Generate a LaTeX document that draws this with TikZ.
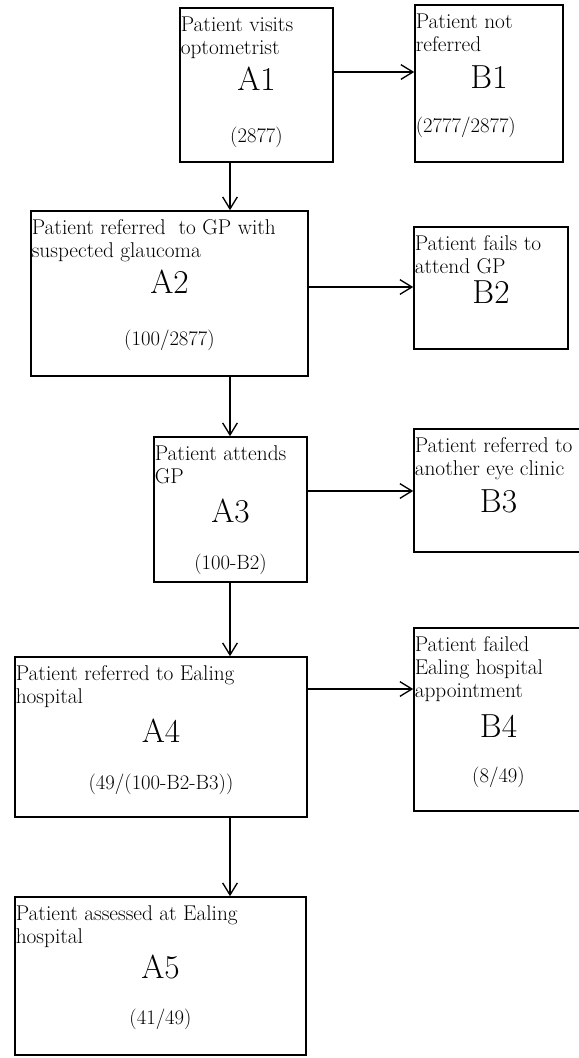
\documentclass[tikz,border=0pt]{standalone}
\usetikzlibrary{arrows.meta,calc,fit}
\begin{document}
\begin{tikzpicture}[x=0.75pt,y=-0.75pt]
      \tikzset{stage/.style={draw, rectangle, line width=1.2pt, inner sep=0pt},
               descr/.style={anchor=north west, align=left, inner xsep=1pt, inner ysep=0pt, font=\fontsize{16}{17.4}\selectfont},
               stagename/.style={inner sep=0pt, font=\fontsize{25}{27}\selectfont},
               tally/.style={inner sep=0pt, font=\fontsize{15.5}{17}\selectfont},
               flow/.style={-{Straight Barb[length=9pt,width=11pt]}, line width=1pt}}
      \useasboundingbox (0,0) rectangle (579,1058);
      \clip (0,0) rectangle (579,1058);
%% Boxes
      	\node[stage, fit={(180,8) (333,162)}] (a1) {};
      	\node[stage, fit={(415,5) (563,162)}] (b1) {};
      	\node[stage, fit={(31,211) (308,376)}] (a2) {};
      	\node[stage, fit={(414,227) (568,349)}] (b2) {};
      	\node[stage, fit={(154,437) (307,582)}] (a3) {};
      	\node[stage, fit={(414,429) (583,552)}] (b3) {};
      	\node[stage, fit={(15,657) (307,817)}] (a4) {};
      	\node[stage, fit={(414,628) (583,811)}] (b4) {};
      	\node[stage, fit={(15,897) (306,1055)}] (a5) {};
%% Texts
      	\node[descr] (a1d) at ($(a1.north west)+(0,9)$) {Patient visits\\optometrist};
      	\node[stagename] (a1n) at ($(a1.north)+(0,72)$) {A1};
      	\node[tally] (a1c) at ($(a1.north)+(0,130)$) {(2877)};
      	\node[descr] (b1d) at ($(b1.north west)+(0,9)$) {Patient not\\referred};
      	\node[stagename] (b1n) at ($(b1.north)+(0,73)$) {B1};
      	\node[tally, anchor=west, inner xsep=1pt] (b1c) at ($(b1.north west)+(0,123)$) {(2777/2877)};
      	\node[descr] (a2d) at ($(a2.north west)+(0,9)$) {Patient referred~ to GP with\\suspected glaucoma};
      	\node[stagename] (a2n) at ($(a2.north)+(0,72)$) {A2};
      	\node[tally] (a2c) at ($(a2.north)+(0,130)$) {(100/2877)};
      	\node[descr] (b2d) at ($(b2.north west)+(0,9)$) {Patient fails to\\attend GP};
      	\node[stagename] (b2n) at ($(b2.north)+(0,66)$) {B2};
      	\node[descr] (a3d) at ($(a3.north west)+(0,9)$) {Patient attends\\GP};
      	\node[stagename] (a3n) at ($(a3.north)+(0,75)$) {A3};
      	\node[tally] (a3c) at ($(a3.north)+(0,128)$) {(100-B2)};
      	\node[descr] (b3d) at ($(b3.north west)+(0,9)$) {Patient referred to\\another eye clinic};
      	\node[stagename] (b3n) at ($(b3.north)+(0,73)$) {B3};
      	\node[descr] (a4d) at ($(a4.north west)+(0,9)$) {Patient referred to Ealing\\hospital};
      	\node[stagename] (a4n) at ($(a4.north)+(0,75)$) {A4};
      	\node[tally] (a4c) at ($(a4.north)+(0,128)$) {(49/(100-B2-B3))};
      	\node[descr] (b4d) at ($(b4.north west)+(0,9)$) {Patient failed\\Ealing hospital\\appointment};
      	\node[stagename] (b4n) at ($(b4.north)+(0,99)$) {B4};
      	\node[tally] (b4c) at ($(b4.north)+(0,150)$) {(8/49)};
      	\node[descr] (a5d) at ($(a5.north west)+(0,9)$) {Patient assessed at Ealing\\hospital};
      	\node[stagename] (a5n) at ($(a5.north)+(0,71)$) {A5};
      	\node[tally] (a5c) at ($(a5.north)+(0,123)$) {(41/49)};
%Edges
      	\coordinate (spine) at (230,0);
      	\coordinate (r1) at (0,72);
      	\coordinate (r2) at (0,287);
      	\coordinate (r3) at (0,491);
      	\coordinate (r4) at (0,689);
		\draw[flow] (a1.south -| spine) -- (a2.north -| spine);
		\draw[flow] (a2.south -| spine) -- (a3.north -| spine);
		\draw[flow] (a3.south -| spine) -- (a4.north -| spine);
		\draw[flow] (a4.south -| spine) -- (a5.north -| spine);
		\draw[flow] (a1.east |- r1) -- (b1.west |- r1);
		\draw[flow] (a2.east |- r2) -- (b2.west |- r2);
		\draw[flow] (a3.east |- r3) -- (b3.west |- r3);
		\draw[flow] (a4.east |- r4) -- (b4.west |- r4);
\end{tikzpicture}
\end{document}
